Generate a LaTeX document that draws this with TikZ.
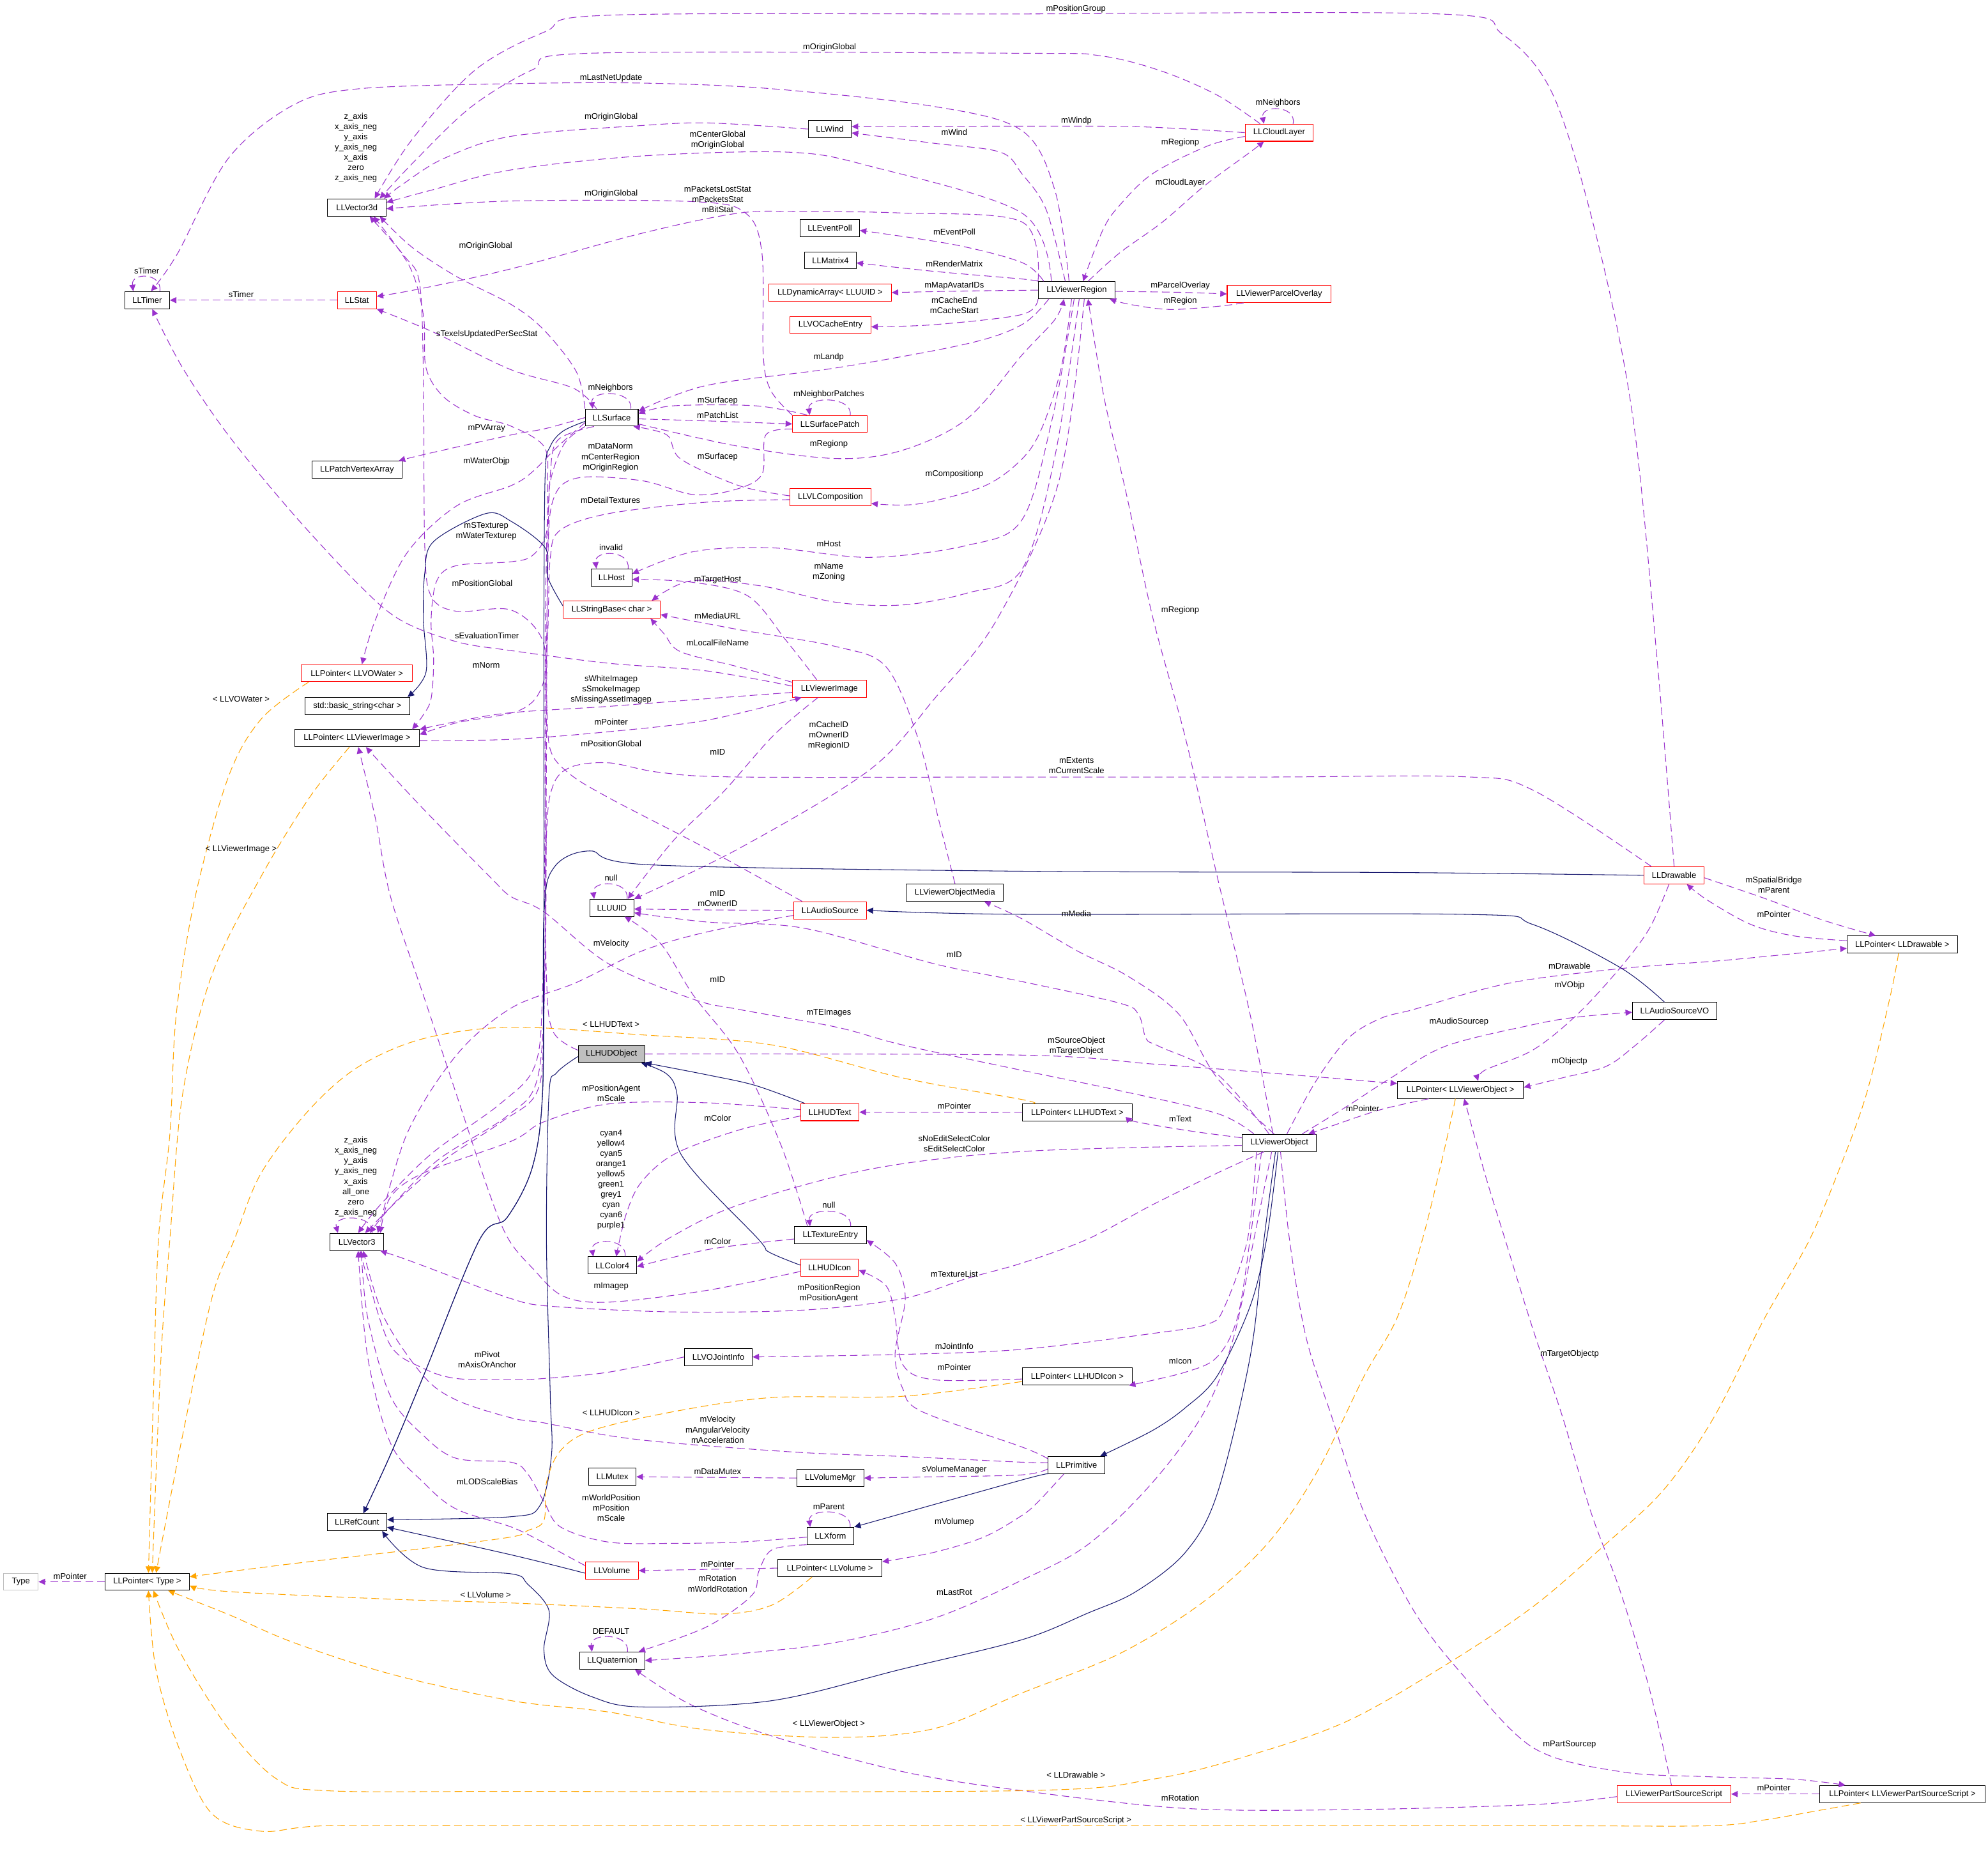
\documentclass[tikz,border=0pt]{standalone}
\usepackage{fontspec}
\setmainfont{Liberation Sans}
\usetikzlibrary{arrows.meta}
\definecolor{usecol}{HTML}{9A32CD}
\definecolor{inhcol}{HTML}{191970}
\definecolor{tplcol}{HTML}{FFA500}
\definecolor{boxred}{HTML}{FF0000}
\definecolor{boxgrey}{HTML}{BFBFBF}
\newdimen\pxu \pxu=0.019847cm
\begin{document}
\begin{tikzpicture}[x=0.019847cm,y=-0.019847cm,font=\fontsize{3.7}{4.57}\selectfont]
  \tikzset{box/.style={draw=black,line width=0.3pt,fill=white,inner sep=0pt,minimum height=13.5*\pxu,minimum width=#1*\pxu},
    redbox/.style={box=#1,draw=boxred},
    greybox/.style={box=#1,fill=boxgrey},
    typebox/.style={box=#1,draw=boxgrey},
    lbl/.style={inner sep=0pt,align=center},
    link/.style={line width=0.3pt,smooth,tension=0.55,-{Triangle[length=2.9pt,width=2.7pt]}},
    uses/.style={link,draw=usecol,dash pattern=on 3.4pt off 1.8pt},
    inh/.style={link,draw=inhcol},
    tmpl/.style={link,draw=tplcol,dash pattern=on 3.4pt off 1.8pt}}
  \fill[white] (0,0) rectangle (1568,1461);
  \useasboundingbox (0,0) rectangle (1568,1461);
  % classes
  \node[box=46.2] (V3d) at (281.5,163.6) {LLVector3d};
  \node[box=35.2] (Timer) at (116.1,236.7) {LLTimer};
  \node[redbox=30.8] (Stat) at (281.5,236.7) {LLStat};
  \node[box=71.2] (PVA) at (281.6,370.4) {LLPatchVertexArray};
  \node[redbox=87.4] (PWater) at (281.5,530.8) {LLPointer< LLVOWater >};
  \node[box=82.8] (BStr) at (281.8,556.6) {std::basic\_string<char >};
  \node[box=98.4] (PVImg) at (281.6,582.1) {LLPointer< LLViewerImage >};
  \node[box=42.2] (V3) at (281.5,979.3) {LLVector3};
  \node[box=47] (RefCount) at (281.6,1200.3) {LLRefCount};
  \node[typebox=27.3] (Type) at (16.5,1247.3) {Type};
  \node[box=66.6] (PType) at (116.1,1247.3) {LLPointer< Type >};
  \node[box=34] (Wind) at (654.5,101.8) {LLWind};
  \node[box=46.8] (EventPoll) at (654.5,179.7) {LLEventPoll};
  \node[box=40.6] (Matrix4) at (655,205.3) {LLMatrix4};
  \node[redbox=96.7] (DynArr) at (654.7,230.7) {LLDynamicArray< LLUUID >};
  \node[redbox=63.8] (VOCache) at (655,256.2) {LLVOCacheEntry};
  \node[box=41.7] (Surface) at (482.5,329.3) {LLSurface};
  \node[redbox=59.1] (SPatch) at (654.6,334.3) {LLSurfacePatch};
  \node[redbox=63.8] (VLComp) at (655,392) {LLVLComposition};
  \node[box=32.1] (Host) at (482.4,455.4) {LLHost};
  \node[redbox=76.6] (StrBase) at (482.5,480.7) {LLStringBase< char >};
  \node[box=60.4] (VRegion) at (849.2,228.8) {LLViewerRegion};
  \node[redbox=82] (ParcelOv) at (1008.9,231.8) {LLViewerParcelOverlay};
  \node[redbox=53.7] (Cloud) at (1008.9,104.6) {LLCloudLayer};
  \node[redbox=58.1] (VImage) at (654.2,543) {LLViewerImage};
  \node[box=34.7] (UUID) at (482.6,715.8) {LLUUID};
  \node[redbox=57.1] (AudioSrc) at (654.7,717.8) {LLAudioSource};
  \node[box=76.6] (VOMedia) at (753.2,703.8) {LLViewerObjectMedia};
  \node[greybox=52.4] (HUDObj) at (482.3,831.1) {LLHUDObject};
  \node[redbox=46] (HUDText) at (654.6,877) {LLHUDText};
  \node[box=56.8] (TexEntry) at (654.9,974) {LLTextureEntry};
  \node[box=99.5] (PVObj) at (1151.9,859.4) {LLPointer< LLViewerObject >};
  \node[box=86.9] (PHUDText) at (849.7,877.1) {LLPointer< LLHUDText >};
  \node[box=58.6] (VObj) at (1009,901.2) {LLViewerObject};
  \node[redbox=47.4] (Drawable) at (1320.4,690.2) {LLDrawable};
  \node[box=87.2] (PDrawable) at (1500.4,744.8) {LLPointer< LLDrawable >};
  \node[box=66.6] (AudioVO) at (1320.8,797.2) {LLAudioSourceVO};
  \node[box=38.3] (Color4) at (483,997.8) {LLColor4};
  \node[redbox=45.7] (HUDIcon) at (654.3,999.6) {LLHUDIcon};
  \node[box=53.4] (JointInfo) at (566.6,1070) {LLVOJointInfo};
  \node[box=37.3] (Mutex) at (483,1164.5) {LLMutex};
  \node[box=52.7] (VolMgr) at (654.9,1165.5) {LLVolumeMgr};
  \node[box=37] (Xform) at (655,1211.1) {LLXform};
  \node[redbox=41.9] (Volume) at (482.6,1238.5) {LLVolume};
  \node[box=82.2] (PVolume) at (654.5,1236.5) {LLPointer< LLVolume >};
  \node[box=51.2] (Quat) at (482.9,1309.4) {LLQuaternion};
  \node[box=86.9] (PHUDIcon) at (849.7,1085.4) {LLPointer< LLHUDIcon >};
  \node[box=44.7] (Primitive) at (849.1,1155.3) {LLPrimitive};
  \node[redbox=89.7] (PSScript) at (1320.3,1414.7) {LLViewerPartSourceScript};
  \node[box=130.4] (PPSScript) at (1500.5,1414.7) {LLPointer< LLViewerPartSourceScript >};
  % members, upper part
  \draw[uses] plot coordinates {(Drawable.north) (1307,520) (1288,330) (1260,190) (1225,75) (1185,27) (1135,11) (800,11) (480,12) (430,25) (375,55) (325,110) ([xshift=14*\pxu]V3d.north)};
  \draw[uses] plot coordinates {([xshift=-15*\pxu]Cloud.north) (960,75) (916,56) (868,44) (806,42) (465,42) (420,55) (372,84) (329,125) ([xshift=18*\pxu]V3d.north)};
  \draw[uses] plot coordinates {([xshift=-6*\pxu]VRegion.north) (832,150) (806,103) (737,84) (609,70) (506,65.5) (403,66) (283,70) (231,83) (180,125) (140,200) ([xshift=3*\pxu]Timer.north)};
  \draw[uses] plot coordinates {(Cloud.west) (900,100) (806,99.5) ([yshift=2*\pxu]Wind.east)};
  \draw[uses] plot coordinates {([xshift=-9*\pxu]VRegion.north) (825,165) (806,137) (789,120) (737,113) ([yshift=-3*\pxu]Wind.east)};
  \draw[uses] ([xshift=11*\pxu]Cloud.north) .. controls +(3,-15) and +(-3,-15) .. ([xshift=-12*\pxu]Cloud.north);
  \draw[uses] plot coordinates {([yshift=-3*\pxu]Cloud.west) (952.7,115) (909,137) (883,162) (870,181) ([xshift=5*\pxu]VRegion.north)};
  \draw[uses] plot coordinates {([xshift=9*\pxu]VRegion.north) (883,199.5) (917,175) (950,146.5) (986,120) ([xshift=-12*\pxu]Cloud.south)};
  \draw[uses] plot coordinates {([yshift=-1*\pxu]VRegion.east) (930,230.5) (ParcelOv.west)};
  \draw[uses] plot coordinates {([xshift=-28*\pxu]ParcelOv.south) (960,241.6) (922,244) (891,240) ([xshift=26*\pxu]VRegion.south)};
  \draw[uses] plot coordinates {([xshift=-26*\pxu]VRegion.north) (806,207) (753,193) ([yshift=-2*\pxu]EventPoll.east)};
  \draw[uses] plot coordinates {(VRegion.north west) (806,220) (737,214) ([yshift=-2*\pxu]Matrix4.east)};
  \draw[uses] plot coordinates {(VRegion.west) (760,229.5) (DynArr.east)};
  \draw[uses] plot coordinates {(VRegion.south west) (806,248) (737,256) ([yshift=-1.5*\pxu]VOCache.east)};
  \draw[uses] plot coordinates {([xshift=-22*\pxu]VRegion.south) (806,256) (763,271) (660,290) (557,304) ([yshift=5*\pxu]Surface.east)};
  \draw[uses] plot coordinates {([yshift=-5*\pxu]Surface.east) (583,352) (660,361.6) (712,355) (763,330) (806,280) (832,252) ([xshift=-10*\pxu]VRegion.south)};
  \draw[uses] plot coordinates {([xshift=-18*\pxu]SPatch.north) (596,320) (531,320) ([yshift=3*\pxu]Surface.east)};
  \draw[uses] plot coordinates {([yshift=-1*\pxu]Surface.east) (560,332) (SPatch.west)};
  \draw[uses] ([xshift=16*\pxu]SPatch.north) .. controls +(2,-15) and +(-2,-15) .. ([xshift=-16*\pxu]SPatch.north);
  \draw[uses] ([xshift=15*\pxu]Surface.north) .. controls +(2,-15) and +(-2,-15) .. ([xshift=-15*\pxu]Surface.north);
  \draw[uses] plot coordinates {([xshift=-12*\pxu]Surface.north) (452,306) (403,291.5) (342,262) (Stat.south east)};
  \draw[uses] plot coordinates {(Surface.north west) (454.5,293) (428.8,260) (403,240) (360,218) (325,195) ([xshift=18*\pxu]V3d.south)};
  \draw[uses] plot coordinates {(Wind.west) (560,97) (506,99) (403,107.5) (350,125) (318,145) ([xshift=-2*\pxu]V3d.north east)};
  \draw[uses] plot coordinates {([xshift=-20*\pxu]VRegion.north) (806,168) (686,131) (622,120) (506,123) (403,134) (340,150) ([yshift=4*\pxu]V3d.east)};
  \draw[uses] plot coordinates {(SPatch.north west) (608,308) (602,280) (601,200) (588,168) (547,159) (403,158.5) ([yshift=-1*\pxu]V3d.east)};
  \draw[uses] plot coordinates {(VRegion.north west) (806,175) (712,168) (634.5,167) (583,168) (506,184) (403,212) (330,228) ([yshift=3*\pxu]Stat.east)};
  \draw[uses] (Stat.west) -- (Timer.east);
  \draw[uses] ([xshift=10*\pxu]Timer.north) .. controls +(2,-15) and +(-2,-15) .. ([xshift=-11*\pxu]Timer.north);
  \draw[uses] plot coordinates {([yshift=2*\pxu]VImage.west) (557,529) (480,523) (403,513) (360,506) (316,489) (283,461) (231,405) (180,343) (144,290) ([xshift=4*\pxu]Timer.south)};
  \draw[uses] plot coordinates {(Surface.west) (430,338) (403,343) (334,358.5) ([xshift=-3*\pxu]PVA.north east)};
  \draw[uses] plot coordinates {([yshift=-4*\pxu]Surface.west) (440,352) (420,372) (403,383) (360,399) (321,436) (296,489) ([xshift=4*\pxu]PWater.north)};
  \draw[uses] plot coordinates {(Surface.south west) (445,350) (434,380) (431,420) (420,438) (403,443) (360,446) (344.5,458) (340,489) (342,520) (340,551) (333,565) ([xshift=-6*\pxu]PVImg.north east)};
  \draw[uses] plot coordinates {([xshift=-14*\pxu]Surface.south) (440,347) (434,375) (432,437) (431,520) (430,640) (428,780) (422,840) (395,870) (340,910) (300,950) ([xshift=1*\pxu]V3.north)};
  \draw[uses] plot coordinates {([yshift=-4*\pxu]SPatch.west) (604,343) (601,374) (580,386) (547,390) (506,379) (455,377) (436,395) (432,450) (431,600) (430,760) (424,850) (400,880) (345,915) (305,955) ([xshift=6.5*\pxu]V3.north)};
  \draw[uses] plot coordinates {([yshift=1*\pxu]VLComp.west) (583,383) (537,362) (526,343) ([xshift=-4*\pxu]Surface.south east)};
  \draw[uses] plot coordinates {([xshift=-4*\pxu]VRegion.south) (837,290) (822,337) (806,362) (776,383.4) (724,397.4) ([yshift=-5*\pxu]VLComp.east)};
  \draw[uses] plot coordinates {([yshift=-2*\pxu]VLComp.west) (557,396) (480,405) (442,418) (434,440) (432,500) (428,540) (410,560) (360,570) ([yshift=3*\pxu]PVImg.east)};
  \draw[uses] ([xshift=13*\pxu]Host.north) .. controls +(2,-15) and +(-2,-15) .. ([xshift=-12*\pxu]Host.north);
  \draw[uses] plot coordinates {([xshift=-2*\pxu]VRegion.south) (830,330) (806,410) (763,430) (686,439.5) (609,432) (547,435) ([yshift=3*\pxu]Host.east)};
  \draw[uses] plot coordinates {([xshift=2*\pxu]VRegion.south) (832,360) (806,449) (763,467.6) (712,477) (660,475) (600,462) (545,458) ([xshift=-7*\pxu]StrBase.north east)};
  \draw[uses] plot coordinates {([xshift=-10*\pxu]VImage.north) (620,505) (590,470) (545,459) ([yshift=-1.5*\pxu]Host.east)};
  \draw[uses] plot coordinates {(VOMedia.north) (740,645) (724,582) (699,526) (660,510) (580,496) ([yshift=-4*\pxu]StrBase.east)};
  \draw[uses] plot coordinates {([yshift=5*\pxu]VImage.west) (583,526) (537,514) (524,500) ([xshift=-8*\pxu]StrBase.south east)};
  \draw[uses] plot coordinates {([yshift=-3*\pxu]VImage.west) (557,551) (480,557) (403,562) (360,569) (PVImg.north east)};
  \draw[uses] plot coordinates {([yshift=-2*\pxu]PVImg.east) (403,583) (480,577) (557,568) ([xshift=-22*\pxu]VImage.south)};
  \draw[uses] plot coordinates {([xshift=-9*\pxu]VImage.south) (610,580) (570,625) (531,663) ([xshift=-5*\pxu]UUID.north east)};
  \draw[uses] plot coordinates {([xshift=6*\pxu]VRegion.south) (835,380) (786,489) (737,551) (686,607) (583,669) (UUID.north east)};
  \draw[uses] plot coordinates {([xshift=-5*\pxu]VObj.north) (986,800) (960,691) (935,582) (909,486) (888.5,390) (870.5,312) ([xshift=9*\pxu]VRegion.south)};
  \draw[uses] ([xshift=12*\pxu]UUID.north) .. controls +(2,-15) and +(-2,-15) .. ([xshift=-14*\pxu]UUID.north);
  \draw[uses] plot coordinates {(AudioSrc.west) (560,717.5) ([yshift=-1*\pxu]UUID.east)};
  \draw[uses] plot coordinates {([xshift=-8*\pxu]VObj.north) (960,847) (914,825) (904,819) (898,800) (883,791) (806,774) (737,760) (634.5,732) (557,727) ([yshift=-4*\pxu]UUID.east)};
  \draw[uses] plot coordinates {([xshift=-18*\pxu]TexEntry.north) (616,903) (583,832) (547,785) (521,744) ([xshift=10*\pxu]UUID.south)};
  \draw[uses] ([xshift=16*\pxu]TexEntry.north) .. controls +(2,-15) and +(-2,-15) .. ([xshift=-16*\pxu]TexEntry.north);
  \draw[uses] plot coordinates {([yshift=-4*\pxu]AudioSrc.west) (557,735) (506,750) (454,775) (403,795) (360,832) (321,894) ([xshift=16.5*\pxu]V3.north)};
  \draw[uses] plot coordinates {([xshift=-22*\pxu]AudioSrc.north) (557,669) (480,629) (449,610) (434,591) (431,551) (428,505) (403,481) (360,482) (340,470) (335,430) (334,300) (331,224) (319,202) ([xshift=10*\pxu]V3d.south)};
  \draw[uses] plot coordinates {([yshift=3*\pxu]HUDObj.west) (436,813) (431,770) (430,650) (430,500) (431,437) (432,380) (429,352) (403,336) (375,328) (350,313) (336,290) (334,249) (323,210) ([xshift=13*\pxu]V3d.south)};
  \draw[uses] plot coordinates {([xshift=-18*\pxu]Drawable.north) (1209,623) (1155,612.5) (1000,612.7) (806,612.7) (583,612.7) (520,609) (480,601.5) (450,605) (436,620) (431,660) (429,800) (424,860) (395,885) (350,915) (310,950) ([xshift=10.3*\pxu]V3.north)};
  \draw[uses] plot coordinates {([yshift=2*\pxu]HUDText.west) (557,869.6) (480,870.5) (429,884.6) (403,900) (334,925) (308,944) ([xshift=18.5*\pxu]V3.north)};
  \draw[uses] ([xshift=12*\pxu]V3.north) .. controls +(2,-15) and +(-4,-15) .. ([xshift=-15*\pxu]V3.north);
  % members, lower part
  \draw[uses] plot coordinates {(JointInfo.west) (480,1082) (429,1087) (403,1088) (360,1087) (334,1079) (308,1061) (290,1008) ([xshift=2.5*\pxu]V3.south)};
  \draw[uses] plot coordinates {([yshift=4*\pxu]Volume.west) (442,1224) (426,1215) (403,1204) (360,1190) (334,1169) (308,1138) (290,1070) ([xshift=1*\pxu]V3.south)};
  \draw[uses] plot coordinates {([yshift=2*\pxu]Primitive.west) (806,1153) (712,1148.5) (634.5,1145.5) (532,1138) (480,1132) (429,1122) (403,1118) (360,1104) (334,1085) (303,1039) ([xshift=5*\pxu]V3.south)};
  \draw[uses] plot coordinates {([yshift=-1*\pxu]Xform.west) (583,1216) (532,1217) (480,1216) (442,1204) (429,1184) (416,1162) (403,1153) (360,1150) (334,1132) (308,1101) (290,1039) ([xshift=3.5*\pxu]V3.south)};
  \draw[uses] plot coordinates {([xshift=-12*\pxu]VObj.south) (960,925) (909,950) (858,977) (806,996) (763,1008) (712,1024) (634.5,1033) (532,1034.5) (434,1030) (403,1024) (360,1008) (320,993) ([xshift=-3*\pxu]V3.south east)};
  \draw[uses] plot coordinates {([yshift=-2*\pxu]VObj.west) (806,908) (686,922) (583,950) (530,975) ([yshift=3*\pxu]Color4.east)};
  \draw[uses] plot coordinates {([yshift=-3*\pxu]HUDText.west) (583,891) (532,910) (506,932) (494,957) ([xshift=3*\pxu]Color4.north)};
  \draw[uses] plot coordinates {([yshift=-3*\pxu]TexEntry.west) (560,985) ([yshift=-1*\pxu]Color4.east)};
  \draw[uses] ([xshift=10*\pxu]Color4.north) .. controls +(2,-15) and +(-3,-15) .. ([xshift=-15*\pxu]Color4.north);
  \draw[uses] plot coordinates {([xshift=-20*\pxu]VObj.north) (960,878) (883,860) (806,844) (712,824) (660,810) (583,796) (547,788) (480,760) (429,719) (403,707) (386,691) (334,638) ([xshift=7*\pxu]PVImg.south)};
  \draw[uses] plot coordinates {([yshift=-3*\pxu]HUDIcon.west) (557,1017.6) (480,1026.8) (444,1022) (420,1000) (401,977) (386,941) (360,863) (334,785) (308,707) (296,645) ([xshift=1*\pxu]PVImg.south)};
  \draw[uses] plot coordinates {([xshift=-4*\pxu]VObj.north) (960,850) (930,800) (890,770) (850,750) (806,724.5) ([xshift=23*\pxu]VOMedia.south)};
  \draw[uses] plot coordinates {([yshift=4*\pxu]VObj.west) (940,892) (896,884.6) ([yshift=-5*\pxu]PHUDText.east)};
  \draw[uses] (PHUDText.west) -- (HUDText.east);
  \draw[uses] plot coordinates {(HUDObj.east) (806,832) (909,839) (1000,846) ([yshift=5*\pxu]PVObj.west)};
  \draw[uses] plot coordinates {([xshift=-25*\pxu]PVObj.south) (1089,875) (1050,888) ([xshift=23*\pxu]VObj.north)};
  \draw[uses] plot coordinates {([xshift=18*\pxu]VObj.north) (1063,872) (1097,850) (1140,825) (1209,808) (1244,802) ([yshift=-1*\pxu]AudioVO.west)};
  \draw[uses] plot coordinates {([xshift=6*\pxu]VObj.north) (1037.6,853) (1063,819) (1089,803) (1115,796) (1166,781) (1209,772) (1286,763) (1363,757) ([yshift=-3*\pxu]PDrawable.west)};
  \draw[uses] plot coordinates {([xshift=-4*\pxu]Drawable.south) (1301,732) (1278,763) (1244,800) (1209,828) (1171,844) ([xshift=14*\pxu]PVObj.north)};
  \draw[uses] plot coordinates {([xshift=-8*\pxu]AudioVO.south) (1289,825) (1266.5,841) (1232,850) ([yshift=2*\pxu]PVObj.east)};
  \draw[uses] plot coordinates {([xshift=-2*\pxu]PSScript.north) (1301,1332) (1278,1255) (1255,1193) (1232,1116) (1209,1048) (1187,977) (1171,925) ([xshift=3*\pxu]PVObj.south)};
  \draw[uses] plot coordinates {([yshift=3*\pxu]PDrawable.west) (1415,738) (1381,729) (1347,710) ([xshift=10*\pxu]Drawable.south)};
  \draw[uses] plot coordinates {([yshift=-2*\pxu]Drawable.east) (1392,708.5) (1438,725.6) ([xshift=-21*\pxu]PDrawable.north)};
  \draw[uses] plot coordinates {([xshift=1*\pxu]VObj.south) (1017,977) (1030,1054) (1050,1116) (1076,1193) (1115,1270) (1153,1320) (1209,1378) (1278,1397) (1347,1401) (1415,1403) ([xshift=-45*\pxu]PPSScript.north)};
  \draw[uses] (PPSScript.west) -- (PSScript.east);
  \draw[uses] plot coordinates {([yshift=-2*\pxu]PSScript.west) (1209,1423) (1063,1427) (935,1426) (806,1412) (712,1397) (609,1369) (544.5,1344) ([xshift=-8*\pxu]Quat.south east)};
  \draw[uses] plot coordinates {([xshift=-6*\pxu]VObj.south) (989,977) (973,1054.5) (950,1113) (909,1169) (858,1218) (806,1246) (737,1276) (660,1295) (583,1304) (Quat.east)};
  \draw[uses] plot coordinates {(Xform.south west) (609,1222) (598.5,1239) (593,1258) (557,1283) ([xshift=-5*\pxu]Quat.north east)};
  \draw[uses] ([xshift=12*\pxu]Quat.north) .. controls +(2,-15) and +(-2,-15) .. ([xshift=-16*\pxu]Quat.north);
  \draw[uses] ([xshift=15.5*\pxu]Xform.north) .. controls +(2,-15) and +(-2,-15) .. ([xshift=-16*\pxu]Xform.north);
  \draw[uses] plot coordinates {([yshift=-3*\pxu]Primitive.west) (806,1163) (737,1164.5) (VolMgr.east)};
  \draw[uses] (VolMgr.west) -- (Mutex.east);
  \draw[uses] plot coordinates {([xshift=-10*\pxu]Primitive.south) (819,1184) (806,1195) (776,1212) (737,1224) ([yshift=5*\pxu]PVolume.east)};
  \draw[uses] (PVolume.west) -- (Volume.east);
  \draw[uses] plot coordinates {([yshift=-2*\pxu]PHUDIcon.west) (737,1088) (712,1076) (706,1039) (699,1014) ([yshift=-2*\pxu]HUDIcon.east)};
  \draw[uses] plot coordinates {([xshift=-14*\pxu]VObj.south) (986,977) (976,1039) (960,1070) (935,1082) ([xshift=-3*\pxu]PHUDIcon.south east)};
  \draw[uses] plot coordinates {([xshift=-18*\pxu]VObj.south) (984,977) (966,1030) (953,1044) (909,1051.5) (806,1064) (712,1068) (JointInfo.east)};
  \draw[uses] plot coordinates {([yshift=5*\pxu]Primitive.west) (806,1141) (727,1113) (712,1095) (706,1067) (714,1024) (706,996) ([yshift=-4*\pxu]TexEntry.east)};
  \draw[uses] (PType.west) -- (Type.east);
  % inheritance
  \draw[inh] plot coordinates {([yshift=3*\pxu]StrBase.west) (432,455) (430,432) (403,411) (383,405) (342,427) (335,452) (334,489) (336,530) ([xshift=-2*\pxu]BStr.north east)};
  \draw[inh] plot coordinates {([yshift=-3*\pxu]Surface.west) (444,340) (434,352) (430,374) (429,489) (429,600) (429,722) (428,860) (420,920) (400,960) (378,978) (334,1085) (308,1147) ([xshift=5*\pxu]RefCount.north)};
  \draw[inh] plot coordinates {(Drawable.west) (1100,688) (806,687) (514,682) (465,671) (437,684) (429,722) (428,860) (420,920) (400,960) (378,978) (334,1085) (308,1147) ([xshift=5*\pxu]RefCount.north)};
  \draw[inh] plot coordinates {([yshift=-2*\pxu]HUDObj.west) (439,846) (433,863) (431,977) (434,1100) (435,1147) (426,1187) (403,1196) ([yshift=2*\pxu]RefCount.east)};
  \draw[inh] plot coordinates {([yshift=-2*\pxu]Volume.west) (403,1226) ([yshift=-4*\pxu]RefCount.east)};
  \draw[inh] plot coordinates {([xshift=-3*\pxu]VObj.south) (997,977) (986,1070) (960,1178) (935,1224) (896,1255) (858,1272) (806,1293) (712,1316) (609,1341) (506,1346) (467,1338) (436,1321) (429,1301) (433,1270) (416,1249) (403,1241) (334,1236) ([xshift=-4*\pxu]RefCount.south east)};
  \draw[inh] plot coordinates {([xshift=-1*\pxu]VObj.south) (999,977) (986,1030) (960,1085) (935,1110) (909,1128) ([xshift=-4*\pxu]Primitive.north east)};
  \draw[inh] plot coordinates {(Primitive.south west) (806,1167) (Xform.north east)};
  \draw[inh] plot coordinates {([xshift=-20*\pxu]HUDText.north) (596,856) (560,848) (HUDObj.south east)};
  \draw[inh] plot coordinates {([yshift=2*\pxu]HUDIcon.west) (606,987) (598,977) (537,910) (534,863) (526,847) ([xshift=-3*\pxu]HUDObj.south east)};
  \draw[inh] plot coordinates {([xshift=-8*\pxu]AudioVO.north) (1278,763) (1209,729) (1155,721) (806,721) (AudioSrc.east)};
  % templates
  \draw[tmpl] plot coordinates {([xshift=-38*\pxu]PWater.south) (206,567) (180,613) (154,707) (139,800) (134,894) (125,977) (121,1100) ([xshift=1*\pxu]PType.north)};
  \draw[tmpl] plot coordinates {([xshift=-6*\pxu]PVImg.south) (244,629) (206,691) (167,769) (144,863) (134,977) (127,1070) ([xshift=4*\pxu]PType.north)};
  \draw[tmpl] plot coordinates {([xshift=-35*\pxu]PHUDText.north) (806,867) (712,850) (609,824) (506,816) (403,810) (334,819) (283,841) (244,875) (206,925) (185,977) (167,1024) (144,1132) ([xshift=7*\pxu]PType.north)};
  \draw[tmpl] plot coordinates {([yshift=-4*\pxu]PHUDIcon.west) (712,1101) (609,1102) (532,1113) (467,1128) (442,1144) (431,1169) (429,1199) (416,1207) (403,1212) (334,1221) (231,1233) ([yshift=4*\pxu]PType.east)};
  \draw[tmpl] plot coordinates {([xshift=-14*\pxu]PVolume.south) (609,1265.6) (570,1272.7) (506,1268.7) (403,1264) (308,1261) (180,1255) ([yshift=-3*\pxu]PType.east)};
  \draw[tmpl] plot coordinates {([xshift=-4*\pxu]PVObj.south) (1140,903) (1122,977) (1102,1039) (1076,1085) (1038,1162) (999,1218) (948,1264) (883,1304) (806,1335) (737,1363) (660,1370) (557,1364) (480,1350) (403,1341) (308,1320) (231,1295) (180,1273) ([xshift=-17*\pxu]PType.south east)};
  \draw[tmpl] plot coordinates {([xshift=-3*\pxu]PDrawable.south) (1491,785) (1472,863) (1449.5,925) (1426,980) (1392,1039) (1351,1119) (1312,1175) (1266,1218) (1209,1267) (1140,1313) (1063,1357) (986,1384) (909,1403) (806,1412) (403,1412.6) (257,1412) (218.5,1403) (180,1363) (141,1301) ([xshift=5*\pxu]PType.south)};
  \draw[tmpl] plot coordinates {([xshift=-33*\pxu]PPSScript.south) (1438,1427) (1392,1435) (1347,1439.7) (1209,1439.7) (806,1439.7) (403,1439.7) (257,1439.7) (206,1444) (167,1430) (141,1378) (123,1316.5) ([xshift=1*\pxu]PType.south)};
  % labels
  \node[lbl] (lPosGroup) at (848.6,6.9) {mPositionGroup};
  \node[lbl] (lOrgCloud) at (654.3,37.4) {mOriginGlobal};
  \node[lbl] (lNetUpd) at (482,61.7) {mLastNetUpdate};
  \node[lbl] (lCloudNb) at (1008,81.4) {mNeighbors};
  \node[lbl] (lWindp) at (849,95.4) {mWindp};
  \node[lbl] (lOrgWind) at (482,92.2) {mOriginGlobal};
  \node[lbl] (lWind) at (752.7,104.4) {mWind};
  \node[lbl] (lCenter) at (566,110.6) {mCenterGlobal\\mOriginGlobal};
  \node[lbl] (lRegCloud) at (930.9,112.2) {mRegionp};
  \node[lbl] (lAxesD) at (280.7,116.3) {z\_axis\\x\_axis\_neg\\y\_axis\\y\_axis\_neg\\x\_axis\\zero\\z\_axis\_neg};
  \node[lbl] (lCloudLay) at (930.9,144.3) {mCloudLayer};
  \node[lbl] (lOrgPatch) at (482,152.8) {mOriginGlobal};
  \node[lbl] (lStats) at (566,157.1) {mPacketsLostStat\\mPacketsStat\\mBitStat};
  \node[lbl] (lEvPoll) at (752.7,182.7) {mEventPoll};
  \node[lbl] (lOrgSurf) at (383,194.2) {mOriginGlobal};
  \node[lbl] (lRender) at (752.7,208.2) {mRenderMatrix};
  \node[lbl] (lTimerSelf) at (115.7,213.5) {sTimer};
  \node[lbl] (lParcel) at (930.9,225.4) {mParcelOverlay};
  \node[lbl] (lAvatars) at (752.7,225.4) {mMapAvatarIDs};
  \node[lbl] (lTimerStat) at (190.2,232.2) {sTimer};
  \node[lbl] (lRegion) at (930.9,237.5) {mRegion};
  \node[lbl] (lCache) at (752.7,241) {mCacheEnd\\mCacheStart};
  \node[lbl] (lTexels) at (384,263.4) {sTexelsUpdatedPerSecStat};
  \node[lbl] (lLand) at (653.7,281.5) {mLandp};
  \node[lbl] (lSurfNb) at (481.5,305.8) {mNeighbors};
  \node[lbl] (lPatchNb) at (653.7,311) {mNeighborPatches};
  \node[lbl] (lSurfPatch) at (566,315.8) {mSurfacep};
  \node[lbl] (lPatchList) at (566,327.3) {mPatchList};
  \node[lbl] (lPVArray) at (383.8,337.6) {mPVArray};
  \node[lbl] (lRegSurf) at (653.7,350.4) {mRegionp};
  \node[lbl] (lDataNorm) at (481.5,360.7) {mDataNorm\\mCenterRegion\\mOriginRegion};
  \node[lbl] (lSurfComp) at (566,360.5) {mSurfacep};
  \node[lbl] (lWaterObj) at (383.8,363.8) {mWaterObjp};
  \node[lbl] (lComp) at (752.7,374) {mCompositionp};
  \node[lbl] (lDetail) at (481.5,394.6) {mDetailTextures};
  \node[lbl] (lSTex) at (383.5,418.8) {mSTexturep\\mWaterTexturep};
  \node[lbl] (lHost) at (653.7,428.6) {mHost};
  \node[lbl] (lInvalid) at (482,431.7) {invalid};
  \node[lbl] (lName) at (653.7,451.3) {mName\\mZoning};
  \node[lbl] (lTgtHost) at (566,457) {mTargetHost};
  \node[lbl] (lPosGlobA) at (380.4,460.1) {mPositionGlobal};
  \node[lbl] (lRegObj) at (930.9,481) {mRegionp};
  \node[lbl] (lMediaURL) at (566,485.7) {mMediaURL};
  \node[lbl] (lEvalTimer) at (384,501.2) {sEvaluationTimer};
  \node[lbl] (lFileName) at (566,506.8) {mLocalFileName};
  \node[lbl] (lNorm) at (383.5,524.5) {mNorm};
  \node[lbl] (lWhite) at (482,543.9) {sWhiteImagep\\sSmokeImagep\\sMissingAssetImagep};
  \node[lbl] (tWater) at (190.2,551.4) {< LLVOWater >};
  \node[lbl] (lPtrImg) at (482,569.4) {mPointer};
  \node[lbl] (lCacheID) at (653.7,580) {mCacheID\\mOwnerID\\mRegionID};
  \node[lbl] (lPosGlobB) at (482,586.3) {mPositionGlobal};
  \node[lbl] (lIDImg) at (566,593.1) {mID};
  \node[lbl] (lExtents) at (849.1,603.7) {mExtents\\mCurrentScale};
  \node[lbl] (tImage) at (190.2,669.8) {< LLViewerImage >};
  \node[lbl] (lNullID) at (482,692.3) {null};
  \node[lbl] (lBridge) at (1399,697.9) {mSpatialBridge\\mParent};
  \node[lbl] (lIDAudio) at (566,708.4) {mID\\mOwnerID};
  \node[lbl] (lMedia) at (849,720.6) {mMedia};
  \node[lbl] (lPtrDraw) at (1399,720.9) {mPointer};
  \node[lbl] (lVelAudio) at (482,744.3) {mVelocity};
  \node[lbl] (lIDObj) at (752.7,753) {mID};
  \node[lbl] (lDrawable) at (1237.9,761.5) {mDrawable};
  \node[lbl] (lIDTex) at (566,772.4) {mID};
  \node[lbl] (lVObjp) at (1237.9,777) {mVObjp};
  \node[lbl] (lTEImages) at (653.7,799) {mTEImages};
  \node[lbl] (lAudioSrc) at (1150.7,805.7) {mAudioSourcep};
  \node[lbl] (tHUDText) at (482,807.6) {< LLHUDText >};
  \node[lbl] (lSrcObj) at (849,825) {mSourceObject\\mTargetObject};
  \node[lbl] (lObjectp) at (1237.9,836.9) {mObjectp};
  \node[lbl] (lPosAgent) at (482,861.8) {mPositionAgent\\mScale};
  \node[lbl] (lPtrText) at (752.7,872.1) {mPointer};
  \node[lbl] (lPtrObj) at (1074.8,874.3) {mPointer};
  \node[lbl] (lColorText) at (566,881.5) {mColor};
  \node[lbl] (lText) at (930.9,882.4) {mText};
  \node[lbl] (lSelColor) at (752.7,902) {sNoEditSelectColor\\sEditSelectColor};
  \node[lbl] (lColors) at (482,930.3) {cyan4\\yellow4\\cyan5\\orange1\\yellow5\\green1\\grey1\\cyan\\cyan6\\purple1};
  \node[lbl] (lAxes) at (280.7,927.9) {z\_axis\\x\_axis\_neg\\y\_axis\\y\_axis\_neg\\x\_axis\\all\_one\\zero\\z\_axis\_neg};
  \node[lbl] (lNullTex) at (653.7,950.4) {null};
  \node[lbl] (lColorTex) at (566,979) {mColor};
  \node[lbl] (lTexList) at (752.7,1004.6) {mTextureList};
  \node[lbl] (lImagep) at (482,1014.5) {mImagep};
  \node[lbl] (lPosRegion) at (653.7,1019.7) {mPositionRegion\\mPositionAgent};
  \node[lbl] (lJoint) at (752.7,1061.3) {mJointInfo};
  \node[lbl] (lTgtObj) at (1237.9,1067.5) {mTargetObjectp};
  \node[lbl] (lPivot) at (384.3,1072) {mPivot\\mAxisOrAnchor};
  \node[lbl] (lIcon) at (930.9,1073) {mIcon};
  \node[lbl] (lPtrIcon) at (752.7,1078) {mPointer};
  \node[lbl] (tHUDIcon) at (482,1114) {< LLHUDIcon >};
  \node[lbl] (lVelPrim) at (566,1127.3) {mVelocity\\mAngularVelocity\\mAcceleration};
  \node[lbl] (lVolMgr) at (752.7,1158.7) {sVolumeManager};
  \node[lbl] (lMutex) at (566,1160.6) {mDataMutex};
  \node[lbl] (lLOD) at (384.3,1168.6) {mLODScaleBias};
  \node[lbl] (lWorldPos) at (482,1188.9) {mWorldPosition\\mPosition\\mScale};
  \node[lbl] (lParent) at (653.7,1188) {mParent};
  \node[lbl] (lVolumep) at (752.7,1200.3) {mVolumep};
  \node[lbl] (lPtrVol) at (566,1233.3) {mPointer};
  \node[lbl] (lPtrType) at (55.3,1242.8) {mPointer};
  \node[lbl] (lRotXf) at (566,1248.7) {mRotation\\mWorldRotation};
  \node[lbl] (lLastRot) at (752.7,1255.5) {mLastRot};
  \node[lbl] (tVolume) at (383,1257.3) {< LLVolume >};
  \node[lbl] (lDefault) at (482,1286.3) {DEFAULT};
  \node[lbl] (tVObj) at (653.7,1359.6) {< LLViewerObject >};
  \node[lbl] (lPartSrc) at (1237.9,1375.9) {mPartSourcep};
  \node[lbl] (tDrawable) at (848.6,1399.4) {< LLDrawable >};
  \node[lbl] (lPtrScript) at (1399,1409.9) {mPointer};
  \node[lbl] (lRotScript) at (930.9,1417.6) {mRotation};
  \node[lbl] (tScript) at (848.6,1435.7) {< LLViewerPartSourceScript >};
\end{tikzpicture}
\end{document}
